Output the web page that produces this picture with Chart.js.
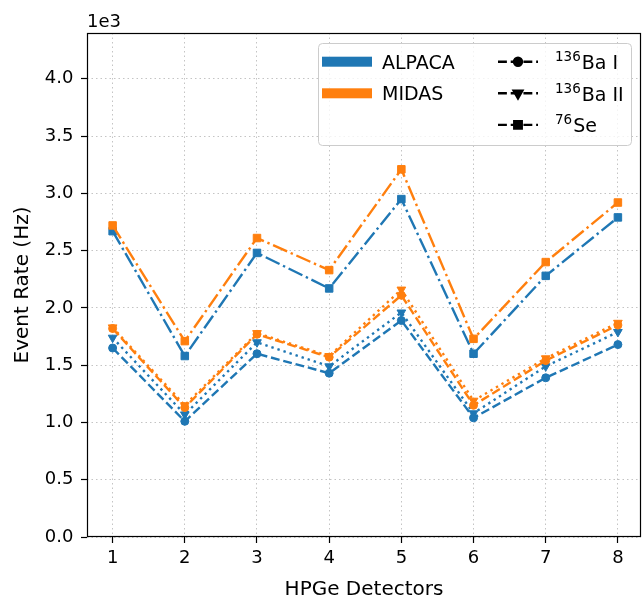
<!DOCTYPE html>
<html><head><meta charset="utf-8">
<script src="https://cdn.jsdelivr.net/npm/chart.js@4"></script>
<style>html,body{margin:0;padding:0;background:#fff}canvas{display:block}</style>
</head><body>
<canvas id="c" width="642" height="601"></canvas>
<script>
// ---- data (Event rate in Hz) ----
const detectors = [1, 2, 3, 4, 5, 6, 7, 8];
const alpacaBaI  = [1650, 1010, 1600, 1430, 1890, 1040, 1390, 1680];
const alpacaBaII = [1740, 1070, 1700, 1490, 1960, 1080, 1490, 1790];
const alpacaSe   = [2670, 1580, 2480, 2170, 2950, 1600, 2280, 2790];
const midasBaI   = [1820, 1130, 1770, 1570, 2110, 1150, 1540, 1850];
const midasBaII  = [1830, 1150, 1780, 1580, 2160, 1190, 1560, 1870];
const midasSe    = [2720, 1710, 2610, 2330, 3210, 1730, 2400, 2920];
const yTicks = [0, 500, 1000, 1500, 2000, 2500, 3000, 3500, 4000];
const experiments = ['ALPACA', 'MIDAS'];
const isotopes = [['136', 'Ba I'], ['136', 'Ba II'], ['76', 'Se']];

const BLUE = '#1f77b4', ORANGE = '#ff7f0e';
const FONT = "'DejaVu Sans', sans-serif";
const LW = 2.4;
const DASHED = [3.7 * LW, 1.6 * LW];
const DOTTED = [1 * LW, 1.65 * LW];
const DASHDOT = [6.4 * LW, 1.6 * LW, 1 * LW, 1.6 * LW];
const GRID = 'rgba(176,176,176,0.75)';

function ds(label, values, color, style, dash, radius, rotation) {
  return {
    label, data: detectors.map((d, i) => ({x: d, y: values[i]})),
    borderColor: color, backgroundColor: color, borderWidth: LW,
    borderDash: dash, borderCapStyle: 'butt', borderJoinStyle: 'round',
    pointStyle: style, pointRadius: radius, pointRotation: rotation || 0,
    pointBorderWidth: 1, pointBackgroundColor: color, pointBorderColor: color,
    pointHoverRadius: radius, tension: 0, fill: false
  };
}

const datasets = [
  ds('MIDAS 136Ba I', midasBaI, ORANGE, 'circle', DASHED, 4),
  ds('MIDAS 136Ba II', midasBaII, ORANGE, 'triangle', DOTTED, 5, 180),
  ds('MIDAS 76Se', midasSe, ORANGE, 'rect', DASHDOT, 5.3),
  ds('ALPACA 136Ba I', alpacaBaI, BLUE, 'circle', DASHED, 4),
  ds('ALPACA 136Ba II', alpacaBaII, BLUE, 'triangle', DOTTED, 5, 180),
  ds('ALPACA 76Se', alpacaSe, BLUE, 'rect', DASHDOT, 5.3)
];

const decor = {
  id: 'decor',
  afterDraw(chart) {
    const ctx = chart.ctx, a = chart.chartArea;
    ctx.save();
    // frame
    ctx.strokeStyle = '#000'; ctx.lineWidth = 1.2; ctx.setLineDash([]);
    ctx.strokeRect(Math.round(a.left) + 0.5, Math.round(a.top) + 0.5,
                   Math.round(a.right - a.left) - 1, Math.round(a.bottom - a.top) - 1);
    // offset text
    ctx.fillStyle = '#000';
    ctx.font = '18px ' + FONT;
    ctx.textAlign = 'left'; ctx.textBaseline = 'alphabetic';
    ctx.fillText('1e3', a.left, 27);
    // legend box
    const bx = 318.5, by = 43.5, bw = 313, bh = 102;
    ctx.beginPath();
    ctx.roundRect(bx, by, bw, bh, 4);
    ctx.fillStyle = 'rgba(255,255,255,0.8)'; ctx.fill();
    ctx.strokeStyle = '#cccccc'; ctx.lineWidth = 1; ctx.stroke();
    const rows = [61.7, 93.3, 124.9];
    // experiment patches
    [BLUE, ORANGE].forEach((c, i) => {
      ctx.fillStyle = c;
      ctx.fillRect(322, rows[i] - 5, 50, 10);
      ctx.fillStyle = '#000';
      ctx.font = '19px ' + FONT;
      ctx.textBaseline = 'alphabetic';
      ctx.fillText(experiments[i], 382, rows[i] + 7);
    });
    // isotope handles
    const styles = ['circle', 'triangle', 'rect'];
    isotopes.forEach((iso, i) => {
      const y = rows[i];
      ctx.strokeStyle = '#000'; ctx.lineWidth = LW; ctx.lineCap = 'butt';
      ctx.setLineDash(DASHED);
      ctx.beginPath(); ctx.moveTo(498, y); ctx.lineTo(538, y); ctx.stroke();
      ctx.setLineDash([]);
      Chart.helpers.drawPoint(ctx, {pointStyle: styles[i], rotation: i === 1 ? 180 : 0,
        radius: i === 0 ? 4 : (i === 1 ? 5 : 5.3), borderWidth: 1}, 518, y);
      ctx.fillStyle = '#000';
      ctx.fill();
      ctx.font = '13.5px ' + FONT;
      ctx.fillText(iso[0], 555, y - 0.5);
      const w = ctx.measureText(iso[0]).width;
      ctx.font = '19px ' + FONT;
      ctx.fillText(iso[1], 555 + w + 1, y + 7.5);
    });
    ctx.restore();
  }
};

new Chart(document.getElementById('c'), {
  type: 'line',
  data: {datasets},
  plugins: [decor],
  options: {
    responsive: false, animation: false, devicePixelRatio: 1,
    layout: {autoPadding: false, padding: {top: 33, right: 1, left: 0, bottom: 0}},
    plugins: {legend: {display: false}, tooltip: {enabled: false}},
    scales: {
      x: {
        type: 'linear', min: 0.645, max: 8.32,
        afterBuildTicks: s => { s.ticks = detectors.map(v => ({value: v})); },
        afterFit: s => { s.height = 64; s.paddingLeft = 0; s.paddingRight = 0; },
        grid: {color: GRID, lineWidth: 1, drawTicks: true, tickLength: 6,
               tickColor: '#000', tickWidth: 1.2, tickBorderDash: []},
        border: {display: false, dash: [1.5, 3]},
        ticks: {color: '#000', font: {family: FONT, size: 18}, padding: 5,
                maxRotation: 0, autoSkip: false, callback: v => String(v)},
        title: {display: true, text: 'HPGe Detectors', color: '#000',
                font: {family: FONT, size: 20, lineHeight: 1.1}, padding: {top: 0, bottom: 0}}
      },
      y: {
        type: 'linear', min: 0, max: 4400,
        afterBuildTicks: s => { s.ticks = yTicks.map(v => ({value: v})); },
        afterFit: s => { s.width = 87; s.paddingTop = 0; s.paddingBottom = 0; },
        grid: {color: GRID, lineWidth: 1, drawTicks: true, tickLength: 6,
               tickColor: '#000', tickWidth: 1.2, tickBorderDash: []},
        border: {display: false, dash: [1.5, 3]},
        ticks: {color: '#000', font: {family: FONT, size: 18}, padding: 7.5,
                callback: v => (v / 1000).toFixed(1)},
        title: {display: true, text: 'Event Rate (Hz)', color: '#000',
                font: {family: FONT, size: 20}, padding: {top: 11, bottom: 0}}
      }
    }
  }
});
</script>
</body></html>
